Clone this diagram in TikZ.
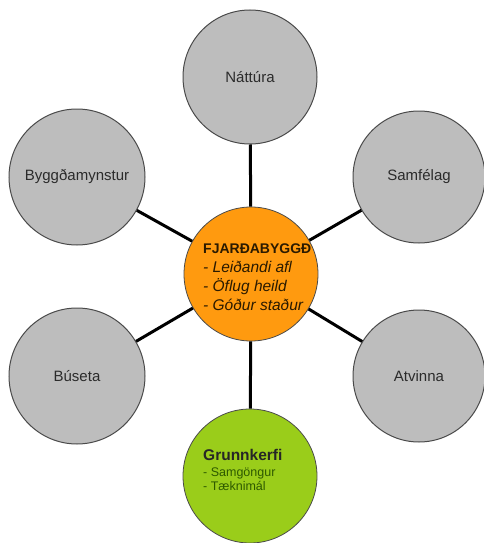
\documentclass[tikz,border=0pt]{standalone}
\usepackage{fontspec}
\setmainfont{Liberation Sans}
\definecolor{grayfill}{HTML}{BDBDBD}
\definecolor{grayline}{HTML}{4A4A4A}
\definecolor{grayText}{HTML}{2B2B2B}
\definecolor{orangefill}{HTML}{FF9A0F}
\definecolor{greenfill}{HTML}{9ACD1A}
\definecolor{greentext}{HTML}{2E5A00}
\definecolor{centertext}{HTML}{2A1A00}
\begin{document}
\begin{tikzpicture}[x=1pt,y=-1pt,
  outer/.style={circle,draw=grayline,line width=1pt,fill=grayfill,inner sep=0pt,
    text=grayText,font=\fontsize{15}{17}\selectfont},
  hub/.style={circle,draw=grayline,line width=0.8pt,inner sep=0pt},
  conn/.style={line width=3pt,black},
  txt/.style={anchor=base west,inner sep=0pt}
]
\useasboundingbox (0,0) rectangle (483,543);
\node[outer,minimum size=134pt] (N) at (250,77) {Náttúra};
\node[outer,minimum size=136pt] (B) at (77,177) {Byggðamynstur};
\node[outer,minimum size=132pt] (S) at (419,177) {Samfélag};
\node[outer,minimum size=136pt] (U) at (77,376) {Búseta};
\node[outer,minimum size=132pt] (A) at (419,376) {Atvinna};
\node[hub,fill=orangefill,minimum size=134pt] (C) at (251,274) {};
\node[hub,fill=greenfill,minimum size=134pt] (G) at (250,476) {};
\draw[conn] (C) -- (N);
\draw[conn] (C) -- (B);
\draw[conn] (C) -- (S);
\draw[conn] (C) -- (U);
\draw[conn] (C) -- (A);
\draw[conn] (C) -- (G);
\node[txt,text=centertext,font=\fontsize{14}{16}\selectfont\bfseries] (c1) at (203,253) {FJARÐABYGGÐ};
\node[txt,text=centertext,font=\fontsize{15.5}{17}\selectfont\itshape] (c2) at (203,272) {- Leiðandi afl};
\node[txt,text=centertext,font=\fontsize{15.5}{17}\selectfont\itshape] (c3) at (203,291) {- Öflug heild};
\node[txt,text=centertext,font=\fontsize{15.5}{17}\selectfont\itshape] (c4) at (203,310) {- Góður staður};
\node[txt,text=black!85,font=\fontsize{15.5}{17}\selectfont\bfseries] (g1) at (203,460) {Grunnkerfi};
\node[txt,text=greentext,font=\fontsize{12.5}{14}\selectfont] (g2) at (203,476) {- Samgöngur};
\node[txt,text=greentext,font=\fontsize{12.5}{14}\selectfont] (g3) at (203,490) {- Tæknimál};
\end{tikzpicture}
\end{document}
